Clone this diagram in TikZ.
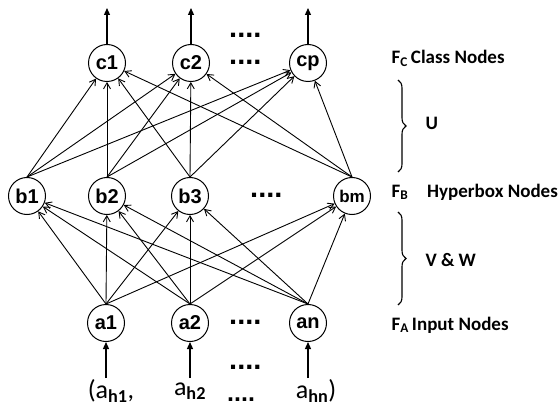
\documentclass[tikz,border=0pt]{standalone}
\usepackage{fontspec}
\setmainfont{Carlito}
\newfontfamily\nodefont{Liberation Sans}
\usetikzlibrary{arrows.meta,decorations.pathreplacing}
\begin{document}
\begin{tikzpicture}[x=1pt,y=-1pt,
  neuron/.style={circle,draw,line width=1pt,minimum size=37pt,inner sep=0pt,font=\nodefont\bfseries\fontsize{20}{20}\selectfont},
  conn/.style={line width=0.9pt,-{Straight Barb[length=6pt,width=7pt,line width=0.9pt]}},
  io/.style={line width=1.2pt,-{Triangle[length=7pt,width=6pt]}},
  dots/.style={anchor=base west,inner sep=0pt,font=\nodefont\bfseries\fontsize{29}{29}\selectfont},
  lab/.style={anchor=west,font=\bfseries\fontsize{19}{19}\selectfont},
  inp/.style={font=\fontsize{26}{26}\selectfont},
  br/.style={decorate,decoration={brace,amplitude=8pt},line width=1.1pt}]
\useasboundingbox (0,0) rectangle (560,409);
% nodes
\node[neuron] (c1) at (107,63) {c1};
\node[neuron] (c2) at (191,63) {c2};
\node[neuron] (cp) at (308,63) {cp};
\node[neuron] (b1) at (27,196) {b1};
\node[neuron] (b2) at (107,196) {b2};
\node[neuron] (b3) at (190,196) {b3};
\node[neuron,font=\nodefont\bfseries\fontsize{17}{17}\selectfont] (bm) at (352,196) {bm};
\node[neuron] (a1) at (106,323) {a1};
\node[neuron] (a2) at (190,323) {a2};
\node[neuron] (an) at (308,323) {an};
% output arrows
\coordinate (o1) at (107,8);
\coordinate (o2) at (191,8);
\coordinate (o3) at (308,8);
\draw[io] (c1.north) -- (o1);
\draw[io] (c2.north) -- (o2);
\draw[io] (cp.north) -- (o3);
% input labels
\node[inp] (x1) at (111,391) {(a\textsubscript{\textbf{h1}},};
\node[inp] (x2) at (190,391) {a\textsubscript{\textbf{h2}}};
\node[inp] (xn) at (316,391) {a\textsubscript{\textbf{hn}})};
\coordinate (i1) at (106,378);
\coordinate (i2) at (190,378);
\coordinate (i3) at (308,378);
\draw[io] (i1) -- (a1.south);
\draw[io] (i2) -- (a2.south);
\draw[io] (i3) -- (an.south);
% U connections
\foreach \s in {b1,b2,b3,bm}{
  \foreach \t in {c1,c2,cp}{
    \draw[conn] (\s.north) -- (\t);
  }
}
% V & W connections
\foreach \s in {a1,a2,an}{
  \foreach \t in {b1,b2,b3,bm}{
    \draw[conn] (\s.north) -- (\t);
  }
}
% dots
\node[dots] (d1) at (229,38) {....};
\node[dots] (d2) at (229,65) {....};
\node[dots] (d3) at (250,198) {....};
\node[dots] (d4) at (229,324) {....};
\node[dots] (d5) at (229,369) {....};
\node[dots,font=\nodefont\bfseries\fontsize{25}{25}\selectfont] (d6) at (227,401) {....};
% right labels
\node[lab] (fc) at (388,58) {F\textsubscript{C}\,Class Nodes};
\node[lab] (fb) at (388,192) {F\textsubscript{B}\quad Hyperbox Nodes};
\node[lab] (fa) at (388,325) {F\textsubscript{A}\,Input Nodes};
\coordinate (u1) at (398,80);
\coordinate (u2) at (398,172);
\coordinate (v1) at (398,212);
\coordinate (v2) at (398,305);
\draw[br] (u1) -- (u2);
\draw[br] (v1) -- (v2);
\node[lab] (U) at (422,123) {U};
\node[lab] (VW) at (422,260) {V \& W};
\end{tikzpicture}
\end{document}
